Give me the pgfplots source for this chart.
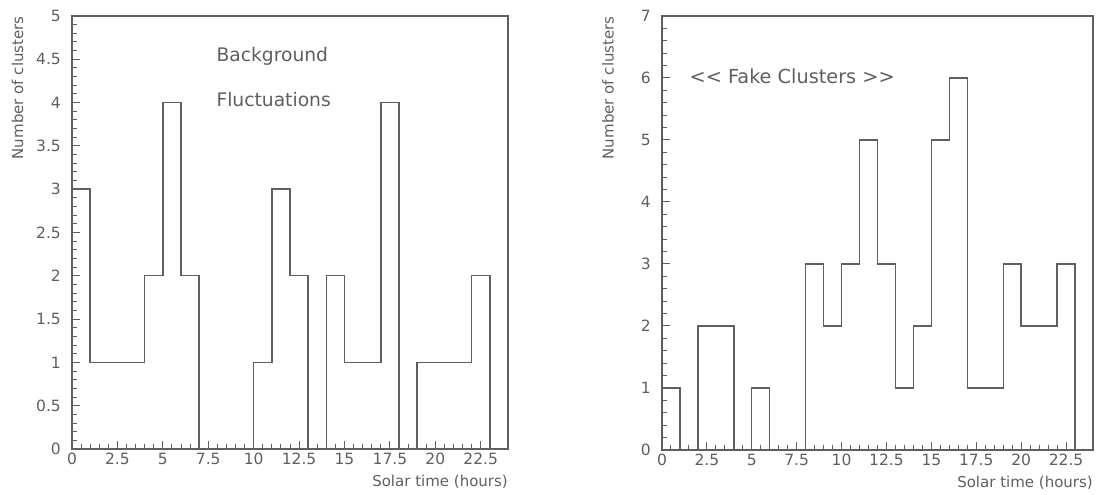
\documentclass[border=0pt]{standalone}
\usepackage{fontspec}
\setmainfont{DejaVu Sans}
\usepackage{pgfplots}
\pgfplotsset{compat=1.18}
\definecolor{ink}{RGB}{95,95,95}
\begin{document}
\begin{tikzpicture}
\useasboundingbox (0pt,0pt) rectangle (1101pt,495pt);
\pgfplotsset{hist/.style={
  scale only axis,
  axis line style={ink, line width=1.4pt},
  tick style={ink, line width=1pt},
  tick align=inside, xtick pos=bottom, ytick pos=left,
  major tick length=8pt, minor tick length=4.5pt,
  xmin=0, xmax=24, ymin=0,
  xtick={0,2.5,5,7.5,10,12.5,15,17.5,20,22.5},
  minor x tick num=4, minor y tick num=4,
  /pgf/number format/assume math mode=true,
  /pgf/number format/fixed,
  ticklabel style={font=\fontsize{15.5}{17}\selectfont, text=ink},
  xticklabel style={anchor=north, inner sep=0pt, yshift=-4pt},
  yticklabel style={anchor=east, inner sep=0pt, xshift=-11pt},
  label style={font=\fontsize{15}{17}\selectfont, text=ink},
  xlabel={Solar time (hours)},
  ylabel={Number of clusters},
  xlabel style={at={(rel axis cs:1,0)}, anchor=north east, inner sep=0pt, yshift=-26pt},
  ylabel style={at={(rel axis cs:-0.125,1)}, anchor=east, inner sep=0pt},
}}
\begin{axis}[hist, at={(72pt,46pt)}, anchor=south west, width=436pt, height=433pt,
  ymax=5, ytick={0,0.5,1,1.5,2,2.5,3,3.5,4,4.5,5}]
\addplot[const plot mark left, ink, line width=1.4pt] coordinates {
(0,3) (1,1) (4,2) (5,4) (6,2) (7,0) (10,1) (11,3) (12,2) (13,0) (14,2) (15,1) (17,4) (18,0) (19,1) (22,2) (23,0) (24,0)};
\node[anchor=west, text=ink, font=\fontsize{18.7}{21}\selectfont] at (axis cs:7.76,4.53) {Background};
\node[anchor=west, text=ink, font=\fontsize{18.7}{21}\selectfont] at (axis cs:7.76,4.04) {Fluctuations};
\end{axis}
\begin{axis}[hist, at={(662pt,45pt)}, anchor=south west, width=431pt, height=434pt,
  ymax=7, ytick={0,1,2,3,4,5,6,7}]
\addplot[const plot mark left, ink, line width=1.4pt] coordinates {
(0,1) (1,0) (2,2) (4,0) (5,1) (6,0) (8,3) (9,2) (10,3) (11,5) (12,3) (13,1) (14,2) (15,5) (16,6) (17,1) (19,3) (20,2) (22,3) (23,0) (24,0)};
\node[anchor=west, text=ink, font=\fontsize{19.3}{21}\selectfont] at (axis cs:1.34,6.02) {{<}{<} Fake Clusters {>}{>}};
\end{axis}
\end{tikzpicture}
\end{document}
